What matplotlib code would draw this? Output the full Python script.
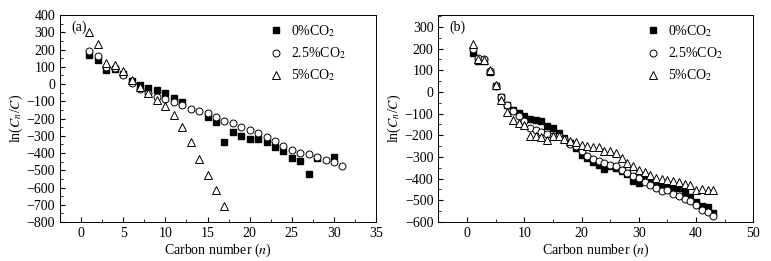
import matplotlib
matplotlib.use("Agg")
import matplotlib.pyplot as plt
from matplotlib.ticker import MultipleLocator

plt.rcParams['font.family'] = ['Liberation Serif', 'DejaVu Serif']
plt.rcParams['mathtext.fontset'] = 'stix'
plt.rcParams['font.size'] = 10

# (a) data
a_n_sq = [1, 2, 3, 4, 5, 6, 7, 8, 9, 10, 11, 12, 15, 16, 17, 18, 19, 20,
          21, 22, 23, 24, 25, 26, 27, 28, 30]
a_sq = [168, 140, 82, 90, 60, 20, -5, -25, -36, -54, -83, -102, -193, -222,
        -334, -276, -301, -318, -318, -338, -363, -388, -430, -449, -523,
        -428, -425]
a_n_ci = list(range(1, 32))
a_ci = [193, 163, 100, 91, 52, 4, -30, -54, -73, -88, -106, -121, -143,
        -156, -170, -193, -214, -228, -247, -266, -286, -305, -330, -357,
        -382, -398, -405, -421, -440, -450, -475]
a_n_tr = list(range(1, 18))
a_tr = [303, 232, 124, 110, 76, 24, -15, -54, -92, -127, -179, -247, -339,
        -432, -527, -614, -710]

# (b) data
b_n = list(range(1, 44))
b_sq = [180, 145, 142, 91, 26, -25, -58, -82, -97, -112, -123, -128, -135,
        -155, -166, -189, -212, -235, -258, -289, -305, -323, -335, -355,
        -340, -352, -365, -378, -410, -420, -405, -410, -418, -425, -430,
        -437, -445, -462, -483, -506, -526, -532, -557]
b_ci = [198, 157, 152, 95, 29, -23, -58, -86, -109, -135, -166, -174, -186,
        -194, -205, -202, -217, -238, -251, -274, -297, -309, -320, -328,
        -335, -343, -358, -374, -386, -397, -417, -429, -445, -458, -451,
        -469, -482, -494, -505, -523, -543, -555, -574]
b_tr = [223, 154, 146, 100, 34, -35, -94, -128, -143, -151, -205, -205,
        -208, -220, -205, -205, -217, -228, -232, -243, -251, -255, -255,
        -274, -274, -282, -305, -328, -343, -358, -371, -382, -397, -402,
        -405, -412, -417, -425, -429, -451, -448, -451, -451]

labels = ['0%CO$_2$', '2.5%CO$_2$', '5%CO$_2$']

fig = plt.figure(figsize=(7.71, 2.61), dpi=100)
ax1 = fig.add_axes([0.0778, 0.1494, 0.41, 0.793])
ax2 = fig.add_axes([0.5685, 0.1494, 0.4086, 0.793])


def draw(ax, xs, ys, anchor):
    ax.plot(xs[0], ys[0], 's', color='black', ms=4.5, label=labels[0])
    ax.plot(xs[1], ys[1], 'o', mfc='white', mec='black', mew=0.7, ms=5,
            label=labels[1])
    ax.plot(xs[2], ys[2], '^', mfc='white', mec='black', mew=0.7, ms=6,
            label=labels[2])
    ax.tick_params(which='both', direction='in', top=False, right=False,
                   labelsize=10)
    ax.tick_params(which='major', length=3.5)
    ax.tick_params(which='minor', length=2)
    ax.set_xlabel('Carbon number ($n$)', fontsize=10, labelpad=1)
    ax.set_ylabel('ln($C_n$/$C$)', fontsize=10, labelpad=1)
    for s in ax.spines.values():
        s.set_linewidth(0.7)
    ax.legend(loc='upper left', frameon=False, fontsize=10,
              handlelength=1.0, handletextpad=0.6, labelspacing=0.45,
              borderaxespad=0.0, borderpad=0.0, bbox_to_anchor=anchor)


draw(ax1, [a_n_sq, a_n_ci, a_n_tr], [a_sq, a_ci, a_tr], (0.66, 0.96))
ax1.set_xlim(-2.5, 35)
ax1.set_ylim(-800, 400)
ax1.xaxis.set_major_locator(MultipleLocator(5))
ax1.xaxis.set_minor_locator(MultipleLocator(2.5))
ax1.yaxis.set_major_locator(MultipleLocator(100))
ax1.yaxis.set_minor_locator(MultipleLocator(50))
ax1.text(0.035, 0.975, '(a)', transform=ax1.transAxes, va='top', fontsize=10)

draw(ax2, [b_n, b_n, b_n], [b_sq, b_ci, b_tr], (0.66, 0.96))
ax2.set_xlim(-5, 50)
ax2.set_ylim(-600, 355)
ax2.xaxis.set_major_locator(MultipleLocator(10))
ax2.xaxis.set_minor_locator(MultipleLocator(5))
ax2.yaxis.set_major_locator(MultipleLocator(100))
ax2.yaxis.set_minor_locator(MultipleLocator(50))
ax2.text(0.035, 0.975, '(b)', transform=ax2.transAxes, va='top', fontsize=10)

fig.savefig('out.png', dpi=100)
